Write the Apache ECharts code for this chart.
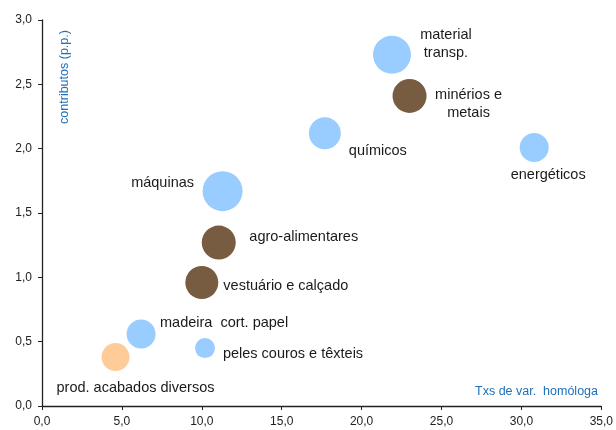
<!DOCTYPE html>
<html>
<head>
<meta charset="utf-8">
<script src="https://cdn.jsdelivr.net/npm/echarts@6/dist/echarts.min.js"></script>
<style>html,body{margin:0;padding:0;background:#fff}#c{width:616px;height:430px}</style>
</head>
<body>
<div id="c"></div>
<script>
var sectors = ["material\ntransp.", "minérios e\nmetais", "químicos", "energéticos", "máquinas", "agro-alimentares", "vestuário e calçado", "madeira  cort. papel", "peles couros e têxteis", "prod. acabados diversos"];
var growthRates = [21.9, 23.0, 17.7, 30.8, 11.3, 11.06, 10.0, 6.2, 10.2, 4.6];
var contributions = [2.73, 2.41, 2.12, 2.01, 1.67, 1.27, 0.96, 0.56, 0.45, 0.38];
var bubbleWeights = [38, 34, 32, 29, 40, 34, 33, 29, 20, 28];
var groups = ["blue", "brown", "blue", "blue", "blue", "brown", "brown", "blue", "blue", "orange"];
var xTicks = [0, 5, 10, 15, 20, 25, 30, 35];
var yTicks = [0, 0.5, 1, 1.5, 2, 2.5, 3];

var groupColors = {blue: "#99CCFF", brown: "#775C42", orange: "#FFCC99"};
var labelOffsets = [[54, -11], [59, 8], [53, 18], [14, 28], [-60, -8], [85, -6], [84, 4], [83, -11], [88, 6], [20, 31]];

var data = sectors.map(function (s, i) {
  return {
    name: s,
    value: [growthRates[i], contributions[i], bubbleWeights[i]],
    itemStyle: {color: groupColors[groups[i]], opacity: 1},
    label: {offset: labelOffsets[i]}
  };
});

function fmt(v) { return v.toFixed(1).replace('.', ','); }

var chart = echarts.init(document.getElementById('c'), null, {renderer: 'canvas'});
chart.setOption({
  animation: false,
  backgroundColor: '#ffffff',
  grid: {left: 42, right: 14, top: 20, bottom: 24, containLabel: false},
  xAxis: {
    type: 'value', min: xTicks[0], max: xTicks[xTicks.length - 1], interval: 5,
    splitLine: {show: false},
    axisLine: {show: true, onZero: false, lineStyle: {color: '#222', width: 1.3}},
    axisTick: {show: true, length: 4, lineStyle: {color: '#222'}},
    axisLabel: {color: '#222', fontFamily: 'Liberation Sans, Arial', fontSize: 12, margin: 10, formatter: fmt}
  },
  yAxis: {
    type: 'value', min: yTicks[0], max: yTicks[yTicks.length - 1], interval: 0.5,
    splitLine: {show: false},
    axisLine: {show: true, onZero: false, lineStyle: {color: '#222', width: 1.3}},
    axisTick: {show: true, length: 4, lineStyle: {color: '#222'}},
    axisLabel: {color: '#222', fontFamily: 'Liberation Sans, Arial', fontSize: 12, margin: 10, formatter: fmt}
  },
  series: [{
    type: 'scatter',
    data: data,
    symbolSize: function (val) { return val[2]; },
    label: {
      show: true,
      position: 'inside',
      align: 'center',
      verticalAlign: 'middle',
      formatter: '{b}',
      color: '#1a1a1a',
      fontFamily: 'Liberation Sans, Arial',
      fontSize: 14.5,
      lineHeight: 18
    },
    emphasis: {disabled: true}
  }],
  graphic: [
    {type: 'text', x: 65, y: 77, rotation: Math.PI / 2,
     style: {text: 'contributos (p.p.)', fill: '#1F6FB8', font: '12.5px "Liberation Sans", Arial', align: 'center', verticalAlign: 'middle'}},
    {type: 'text', x: 598, y: 392,
     style: {text: 'Txs de var.  homóloga', fill: '#1F6FB8', font: '12.5px "Liberation Sans", Arial', align: 'right', verticalAlign: 'middle'}}
  ]
});
</script>
</body>
</html>
